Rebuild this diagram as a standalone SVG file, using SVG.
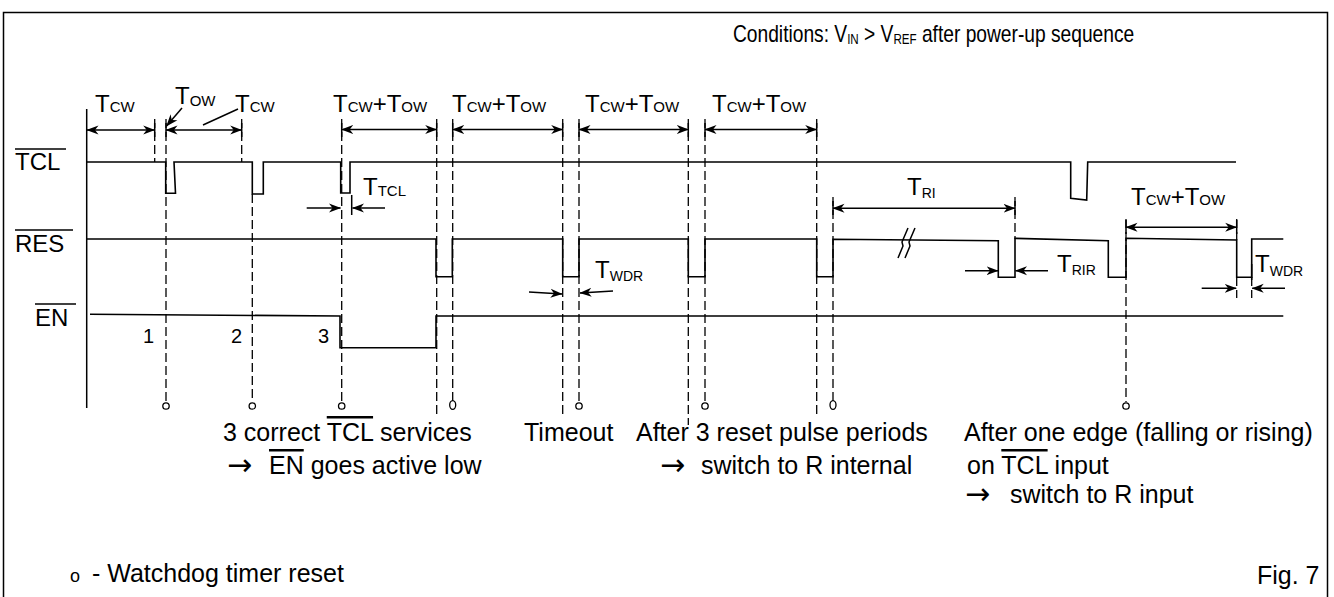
<svg xmlns="http://www.w3.org/2000/svg" width="1334" height="597" viewBox="0 0 1334 597">
<style>
text{font-family:"Liberation Sans",Arial,sans-serif;fill:#000}
.lbl{font-size:24px}
.sub{font-size:15px}
.txt{font-size:25px}
.num{font-size:20px}
.arr{font-family:"DejaVu Sans",sans-serif;font-size:30px}
.sig{fill:none;stroke:#000;stroke-width:1.6}
.dash{fill:none;stroke:#000;stroke-width:1.3;stroke-dasharray:9 4}
.dim{fill:none;stroke:#000;stroke-width:1.5;marker-start:url(#ah);marker-end:url(#ah)}
.one{fill:none;stroke:#000;stroke-width:1.5;marker-end:url(#ah)}
.tick{fill:none;stroke:#000;stroke-width:1.5}
.ov{text-decoration:overline}
.wd{fill:#fff;stroke:#000;stroke-width:1.3}
</style>
<defs>
<marker id="ah" viewBox="0 0 12 10" refX="11.5" refY="5" markerWidth="12" markerHeight="10" markerUnits="userSpaceOnUse" orient="auto-start-reverse">
<path d="M0,0.5 L12,5 L0,9.5 L3.5,5 Z" fill="#000"/>
</marker>
</defs>
<rect width="1334" height="597" fill="#fff"/>
<path id="frame" d="M3.5,600 V12.5 H1327.5 V600" fill="none" stroke="#000" stroke-width="1.5"/>

<g id="conditions">
<text transform="translate(733,42) scale(0.8,1)" style="font-size:24px">Conditions: V<tspan style="font-size:14.5px" dy="2">IN</tspan><tspan dy="-2"> &gt; V</tspan><tspan style="font-size:14.5px" dy="2">REF</tspan><tspan dy="-2"> after power-up sequence</tspan></text>
</g>

<g id="axis"><line x1="86.7" y1="109" x2="86.7" y2="408" class="tick"/></g>

<g id="sig-TCL">
<text x="15" y="170" class="lbl">TCL</text>
<line x1="15" y1="149" x2="66" y2="149" class="tick"/>
<path class="sig" d="M87,162 H165.7 V193.3 H175.5 L174,162 H252.3 V194 H263.3 V162 H340.7 V193 H350 V162 H1070.7 V198.3 L1086.7,200 L1087.7,162 H1236"/>
</g>

<g id="sig-RES">
<text x="15" y="252" class="lbl">RES</text>
<line x1="15" y1="230" x2="73" y2="230" class="tick"/>
<path class="sig" d="M87,239 H436 V276.7 H452.3 V239 H562.7 V276.7 H579 V239 H688.3 V276.7 H705 V239 H816.7 V276.7 H833 V239.3 L998.3,240.7 V277.3 H1015 V238.3 L1108.3,240.7 V277.3 H1126 V238.3 L1236.7,240 V277.3 H1251.7 V239 H1283.3"/>
<path class="tick" d="M898,258 L903,246 L902,242 L908,228 M905,258 L910,246 L909,242 L915,228"/>
</g>

<g id="sig-EN">
<text x="35" y="326" class="lbl">EN</text>
<line x1="35" y1="304" x2="76" y2="304" class="tick"/>
<path class="sig" d="M90,314.3 L340,316 V347.7 H436 V316 H1283.3"/>
<text x="143" y="342.5" class="num">1</text>
<text x="231" y="342.5" class="num">2</text>
<text x="318" y="342.5" class="num">3</text>
</g>

<g id="connectors">
<path class="dash" d="M154.7,119 V162 M166,119 V402 M241.7,119 V162 M252.3,194 V402 M341.7,119 V402 M436.7,119 V418 M452.7,119 V402 M562.7,119 V418 M579,119 V402 M688.3,119 V425 M705,119 V402 M816.7,119 V418 M833,197 V402 M1015,197 V239 M1126,219 V402 M1236.7,219 V240 M1236.7,277 V298 M1251.7,277 V298"/>
<path class="tick" d="M154.7,123 V137 M166,123 V137 M241.7,123 V137 M341.7,123 V137 M436.7,123 V137 M452.7,123 V137 M562.7,123 V137 M579,123 V137 M688.3,123 V137 M705,123 V137 M816.7,123 V137 M833,201 V215 M1015,201 V215 M1126,220 V234 M1236.7,220 V234 M351.7,195 V215 M1251.7,264 V280"/>
<line class="dim" x1="87" y1="130" x2="154.7" y2="130"/>
<line class="dim" x1="166" y1="130" x2="241.7" y2="130"/>
<line class="dim" x1="341.7" y1="129.5" x2="436.7" y2="129.5"/>
<line class="dim" x1="452.7" y1="129.5" x2="562.7" y2="129.5"/>
<line class="dim" x1="579" y1="129.5" x2="688.3" y2="129.5"/>
<line class="dim" x1="705" y1="129.5" x2="816.7" y2="129.5"/>
<line class="dim" x1="833" y1="208.3" x2="1015" y2="208.3"/>
<line class="dim" x1="1126" y1="227.3" x2="1236.7" y2="227.3"/>
<line class="one" x1="182" y1="108" x2="166.5" y2="126"/>
<line class="tick" x1="238" y1="109" x2="203" y2="125"/>
<line class="one" x1="306.7" y1="208" x2="340.5" y2="208"/>
<line class="one" x1="385" y1="208" x2="352.5" y2="208"/>
<line class="one" x1="529" y1="292" x2="562" y2="294"/>
<line class="one" x1="613" y1="291" x2="580" y2="293"/>
<line class="one" x1="965" y1="270.7" x2="998" y2="270.7"/>
<line class="one" x1="1048" y1="270.7" x2="1015.5" y2="270.7"/>
<line class="one" x1="1201.7" y1="288.3" x2="1236.2" y2="288.3"/>
<line class="one" x1="1285" y1="288.3" x2="1252.2" y2="288.3"/>
<ellipse class="wd" cx="166" cy="406" rx="3.2" ry="3.2"/>
<ellipse class="wd" cx="252.3" cy="406" rx="3.2" ry="3.2"/>
<ellipse class="wd" cx="341.7" cy="406" rx="3.2" ry="3.2"/>
<ellipse class="wd" cx="452.7" cy="405" rx="3" ry="4.3"/>
<ellipse class="wd" cx="579" cy="406" rx="3.2" ry="3.2"/>
<ellipse class="wd" cx="705" cy="406" rx="3.2" ry="3.2"/>
<ellipse class="wd" cx="833" cy="405" rx="3" ry="4.3"/>
<ellipse class="wd" cx="1126" cy="406" rx="3.2" ry="3.2"/>
</g>

<g id="timing-labels" class="lbl">
<text x="95" y="112">T<tspan class="sub">CW</tspan></text>
<text x="175" y="104">T<tspan class="sub" dy="2">OW</tspan></text>
<text x="235" y="112">T<tspan class="sub">CW</tspan></text>
<text x="333" y="112">T<tspan class="sub">CW</tspan>+T<tspan class="sub">OW</tspan></text>
<text x="452" y="112">T<tspan class="sub">CW</tspan>+T<tspan class="sub">OW</tspan></text>
<text x="585" y="112">T<tspan class="sub">CW</tspan>+T<tspan class="sub">OW</tspan></text>
<text x="712" y="112">T<tspan class="sub">CW</tspan>+T<tspan class="sub">OW</tspan></text>
<text x="363" y="195">T<tspan class="sub" dy="1">TCL</tspan></text>
<text x="595" y="278">T<tspan class="sub" style="font-size:14px" dy="3">WDR</tspan></text>
<text x="907" y="195">T<tspan class="sub" style="font-size:14px" dy="3">RI</tspan></text>
<text x="1057" y="272">T<tspan class="sub" style="font-size:14px" dy="3">RIR</tspan></text>
<text x="1131" y="205">T<tspan class="sub">CW</tspan>+T<tspan class="sub">OW</tspan></text>
<text x="1255" y="272">T<tspan class="sub" style="font-size:14px" dy="4">WDR</tspan></text>
</g>

<g id="note-services" class="txt">
<text x="223" y="441">3 correct <tspan class="ov">TCL</tspan> services</text>
<text x="227" y="475" class="arr">→</text>
<text x="269" y="474"><tspan class="ov">EN</tspan> goes active low</text>
</g>
<g id="note-timeout" class="txt"><text x="524" y="441">Timeout</text></g>
<g id="note-rinternal" class="txt">
<text x="636" y="441">After 3 reset pulse periods</text>
<text x="660" y="475" class="arr">→</text>
<text x="701" y="474">switch to R internal</text>
</g>
<g id="note-rinput" class="txt">
<text x="964" y="441">After one edge (falling or rising)</text>
<text x="967" y="474">on <tspan class="ov">TCL</tspan> input</text>
<text x="965" y="504" class="arr">→</text>
<text x="1010" y="503">switch to R input</text>
</g>
<g id="legend" class="txt">
<text x="70" y="582" style="font-size:18px">o</text>
<text x="92" y="582">- Watchdog timer reset</text>
</g>
<g id="figno" class="txt"><text x="1257" y="584">Fig. 7</text></g>
</svg>
